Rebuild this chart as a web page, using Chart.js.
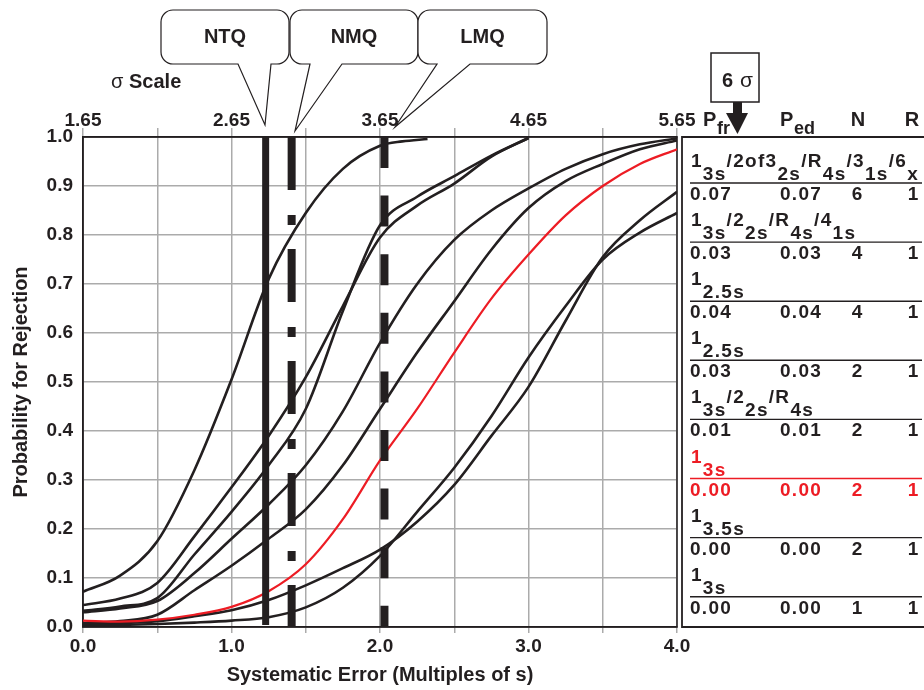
<!DOCTYPE html>
<html>
<head>
<meta charset="utf-8">
<script src="https://cdn.jsdelivr.net/npm/chart.js@4.4.1/dist/chart.umd.min.js"></script>
<style>
  body { margin: 0; background: #fff; }
  #wrap { width: 924px; height: 690px; }
</style>
</head>
<body>
<div id="wrap"><canvas id="powerchart" width="924" height="690"></canvas></div>
<script>
// systematic error (multiples of s) where the curves are sampled
const seX = [0, 0.25, 0.5, 0.75, 1, 1.25, 1.5, 1.75, 2, 2.25, 2.5, 2.75, 3, 3.25, 3.5, 3.75, 4];

// probability for rejection, one array per QC procedure
const curveAX = [0, 0.25, 0.5, 0.75, 1, 1.25, 1.5, 1.75, 2, 2.15, 2.32];
const curveA = [0.072, 0.105, 0.175, 0.32, 0.505, 0.71, 0.845, 0.935, 0.982, 0.991, 0.996];
const curveB = [0.045, 0.058, 0.09, 0.185, 0.285, 0.39, 0.51, 0.655, 0.795, 0.86, 0.905, 0.96, 0.998];
const curveC = [0.033, 0.042, 0.059, 0.148, 0.235, 0.33, 0.445, 0.645, 0.82, 0.878, 0.92, 0.962, 0.998];
const curveD = [0.03, 0.038, 0.053, 0.11, 0.18, 0.25, 0.33, 0.44, 0.58, 0.70, 0.79, 0.85, 0.895, 0.935, 0.965, 0.985, 0.997];
const curveE = [0.008, 0.012, 0.025, 0.075, 0.125, 0.18, 0.24, 0.33, 0.445, 0.56, 0.665, 0.77, 0.855, 0.91, 0.945, 0.975, 0.993];
const curveF = [0.006, 0.008, 0.012, 0.022, 0.034, 0.055, 0.085, 0.12, 0.158, 0.215, 0.29, 0.39, 0.49, 0.625, 0.755, 0.83, 0.888];
const curveG = [0.003, 0.004, 0.006, 0.009, 0.013, 0.02, 0.04, 0.08, 0.145, 0.235, 0.325, 0.43, 0.55, 0.655, 0.75, 0.805, 0.845];
const curveRed = [0.013, 0.011, 0.015, 0.025, 0.041, 0.073, 0.128, 0.22, 0.34, 0.445, 0.56, 0.67, 0.76, 0.84, 0.90, 0.945, 0.975];

// quality requirement markers
const ntqX = 1.23;
const nmqX = 1.405;
const lmqX = 2.03;

// sigma scale along the top: sigma = 1.65 + SE
const sigmaOffset = 1.65;

// table of QC procedures
const ruleLabels = [
  ['1', '3s', '/2of3', '2s', '/R', '4s', '/3', '1s', '/6', 'x'],
  ['1', '3s', '/2', '2s', '/R', '4s', '/4', '1s'],
  ['1', '2.5s'],
  ['1', '2.5s'],
  ['1', '3s', '/2', '2s', '/R', '4s'],
  ['1', '3s'],
  ['1', '3.5s'],
  ['1', '3s']
];
const pfr = [0.07, 0.03, 0.04, 0.03, 0.01, 0.00, 0.00, 0.00];
const ped = [0.07, 0.03, 0.04, 0.03, 0.01, 0.00, 0.00, 0.00];
const nRuns = [6, 4, 4, 2, 2, 2, 2, 1];
const rRuns = [1, 1, 1, 1, 1, 1, 1, 1];
const highlightRow = 5;

const FONT = '"Liberation Sans", Arial, Helvetica, sans-serif';
const INK = '#231f20';
const RED = '#ed1c24';
const GRID = '#ababab';

const pts = (xs, ys) => ys.map((y, i) => ({ x: xs[i], y }));
const curve = (xs, ys, color, width) => ({
  data: pts(xs, ys),
  borderColor: color,
  borderWidth: width,
  pointRadius: 0,
  cubicInterpolationMode: 'monotone'
});
const marker = (x, yEnd, width, dash) => ({
  data: [{ x, y: 1 }, { x, y: yEnd }],
  borderColor: INK,
  borderWidth: width,
  borderDash: dash,
  borderCapStyle: 'butt',
  pointRadius: 0
});

function spaced(ctx, text, x, y, gap) {
  for (const ch of text) {
    ctx.fillText(ch, x, y);
    x += ctx.measureText(ch).width + gap;
  }
  return x;
}

function bubble(ctx, x, y, w, h, r, tailL, tailR, tipX, tipY, label) {
  ctx.beginPath();
  ctx.moveTo(x + r, y);
  ctx.lineTo(x + w - r, y);
  ctx.arcTo(x + w, y, x + w, y + r, r);
  ctx.lineTo(x + w, y + h - r);
  ctx.arcTo(x + w, y + h, x + w - r, y + h, r);
  ctx.lineTo(tailR, y + h);
  ctx.lineTo(tipX, tipY);
  ctx.lineTo(tailL, y + h);
  ctx.lineTo(x + r, y + h);
  ctx.arcTo(x, y + h, x, y + h - r, r);
  ctx.lineTo(x, y + r);
  ctx.arcTo(x, y, x + r, y, r);
  ctx.closePath();
  ctx.fillStyle = '#fff';
  ctx.fill();
  ctx.strokeStyle = INK;
  ctx.lineWidth = 1.2;
  ctx.stroke();
  ctx.fillStyle = INK;
  ctx.font = 'bold 20px ' + FONT;
  ctx.textAlign = 'center';
  ctx.textBaseline = 'middle';
  ctx.fillText(label, x + w / 2, y + 27);
}

const decorations = {
  id: 'decorations',
  beforeDatasetsDraw(chart) {
    const { ctx, chartArea: a } = chart;
    ctx.save();
    ctx.strokeStyle = INK;
    ctx.lineWidth = 1.5;
    ctx.strokeRect(a.left, a.top, a.right - a.left, a.bottom - a.top);
    ctx.restore();
  },
  afterDraw(chart) {
    const { ctx, chartArea: a } = chart;
    ctx.save();

    // callouts for the quality requirements
    bubble(ctx, 161, 10, 128, 54, 12, 238, 271, 265, 125, 'NTQ');
    bubble(ctx, 290, 10, 128, 54, 12, 310, 342, 295, 131, 'NMQ');
    bubble(ctx, 418, 10, 129, 54, 12, 437, 470, 395, 127, 'LMQ');

    // sigma scale caption
    ctx.fillStyle = INK;
    ctx.textAlign = 'left';
    ctx.textBaseline = 'alphabetic';
    ctx.font = '20px ' + FONT;
    ctx.fillText('\u03c3', 111, 88);
    ctx.font = 'bold 20px ' + FONT;
    ctx.fillText('Scale', 129, 88);

    // table frame
    const tl = a.right + 5;
    ctx.strokeStyle = INK;
    ctx.lineWidth = 1.8;
    ctx.beginPath();
    ctx.moveTo(924, a.top);
    ctx.lineTo(tl, a.top);
    ctx.lineTo(tl, a.bottom);
    ctx.lineTo(924, a.bottom);
    ctx.stroke();

    // table header
    ctx.fillStyle = INK;
    ctx.font = 'bold 20px ' + FONT;
    ctx.fillText('P', 703, 126);
    ctx.fillText('P', 780, 126);
    ctx.textAlign = 'center';
    ctx.fillText('N', 858, 126);
    ctx.fillText('R', 912, 126);
    ctx.textAlign = 'left';
    ctx.font = 'bold 18px ' + FONT;
    ctx.fillText('fr', 717, 134);
    ctx.fillText('ed', 794, 134);

    // table rows
    ruleLabels.forEach((parts, i) => {
      const lineY = 183 + i * 59.1;
      const color = i === highlightRow ? RED : INK;
      ctx.fillStyle = color;
      ctx.textAlign = 'left';
      let x = 691;
      parts.forEach((p, k) => {
        ctx.font = 'bold 19px ' + FONT;
        x = spaced(ctx, p, x, k % 2 ? lineY - 3 : lineY - 16, 1.3);
      });
      ctx.strokeStyle = color;
      ctx.lineWidth = 1.4;
      ctx.beginPath();
      ctx.moveTo(690, lineY);
      ctx.lineTo(922, lineY);
      ctx.stroke();

      const vy = lineY + 17;
      ctx.font = 'bold 19px ' + FONT;
      spaced(ctx, pfr[i].toFixed(2), 690, vy, 1.3);
      spaced(ctx, ped[i].toFixed(2), 780, vy, 1.3);
      const n = String(nRuns[i]);
      const r = String(rRuns[i]);
      ctx.fillText(n, 857 - ctx.measureText(n).width / 2, vy);
      ctx.fillText(r, 913 - ctx.measureText(r).width / 2, vy);
    });

    // 6 sigma pointer
    ctx.fillStyle = '#fff';
    ctx.fillRect(711, 53, 48, 49);
    ctx.strokeStyle = INK;
    ctx.lineWidth = 1.5;
    ctx.strokeRect(711, 53, 48, 49);
    ctx.fillStyle = INK;
    ctx.font = 'bold 20px ' + FONT;
    ctx.fillText('6', 722, 87);
    ctx.font = '21px ' + FONT;
    ctx.fillText('\u03c3', 740, 87);
    ctx.fillRect(733, 102, 9, 12);
    ctx.beginPath();
    ctx.moveTo(726, 113);
    ctx.lineTo(748, 113);
    ctx.lineTo(737.5, 134);
    ctx.closePath();
    ctx.fill();

    ctx.restore();
  }
};

const tickFont = { family: FONT, size: 19, weight: 'bold' };

new Chart(document.getElementById('powerchart'), {
  type: 'line',
  data: {
    datasets: [
      marker(ntqX, 0.004, 7, []),
      marker(nmqX, 0, 8, [53, 25, 10, 24]),
      marker(lmqX, 0, 8, [31, 27.6]),
      curve(seX, curveRed, RED, 2.2),
      curve(curveAX, curveA, INK, 2.6),
      curve(seX, curveB, INK, 2.6),
      curve(seX, curveC, INK, 2.6),
      curve(seX, curveD, INK, 2.6),
      curve(seX, curveE, INK, 2.6),
      curve(seX, curveF, INK, 2.6),
      curve(seX, curveG, INK, 2.6)
    ]
  },
  options: {
    responsive: false,
    animation: false,
    layout: { padding: { left: 0, top: 0, right: 247, bottom: 0 } },
    plugins: { legend: { display: false }, tooltip: { enabled: false } },
    scales: {
      x: {
        type: 'linear',
        position: 'bottom',
        min: 0,
        max: 4,
        afterFit: s => { s.height = 63; },
        ticks: {
          stepSize: 0.5,
          autoSkip: false,
          maxRotation: 0,
          padding: 2,
          color: INK,
          font: tickFont,
          callback: v => Number.isInteger(v) ? v.toFixed(1) : ''
        },
        grid: { color: GRID, lineWidth: 1.5, tickLength: 6 },
        border: { color: INK, width: 1.5 },
        title: {
          display: true,
          text: 'Systematic Error (Multiples of s)',
          color: INK,
          font: { family: FONT, size: 20, weight: 'bold' },
          padding: { top: 0, bottom: 3 }
        }
      },
      sigma: {
        type: 'linear',
        position: 'top',
        axis: 'x',
        min: 0,
        max: 4,
        afterFit: s => { s.height = 137; },
        ticks: {
          stepSize: 0.5,
          autoSkip: false,
          maxRotation: 0,
          padding: -4,
          color: INK,
          font: tickFont,
          callback: v => Number.isInteger(v) ? (v + sigmaOffset).toFixed(2) : ''
        },
        grid: { color: GRID, lineWidth: 1.5, tickLength: 9, drawOnChartArea: false },
        border: { color: INK, width: 1.5 }
      },
      y: {
        min: 0,
        max: 1,
        afterFit: s => { s.width = 83; },
        ticks: {
          stepSize: 0.1,
          padding: 10,
          color: INK,
          font: tickFont,
          callback: v => v.toFixed(1)
        },
        grid: { color: GRID, lineWidth: 1.5, drawTicks: false, tickLength: 0 },
        border: { color: INK, width: 1.5 },
        title: {
          display: true,
          text: 'Probability for Rejection',
          color: INK,
          font: { family: FONT, size: 20, weight: 'bold' },
          padding: { top: 9, bottom: 0 }
        }
      }
    }
  },
  plugins: [decorations]
});
</script>
</body>
</html>
